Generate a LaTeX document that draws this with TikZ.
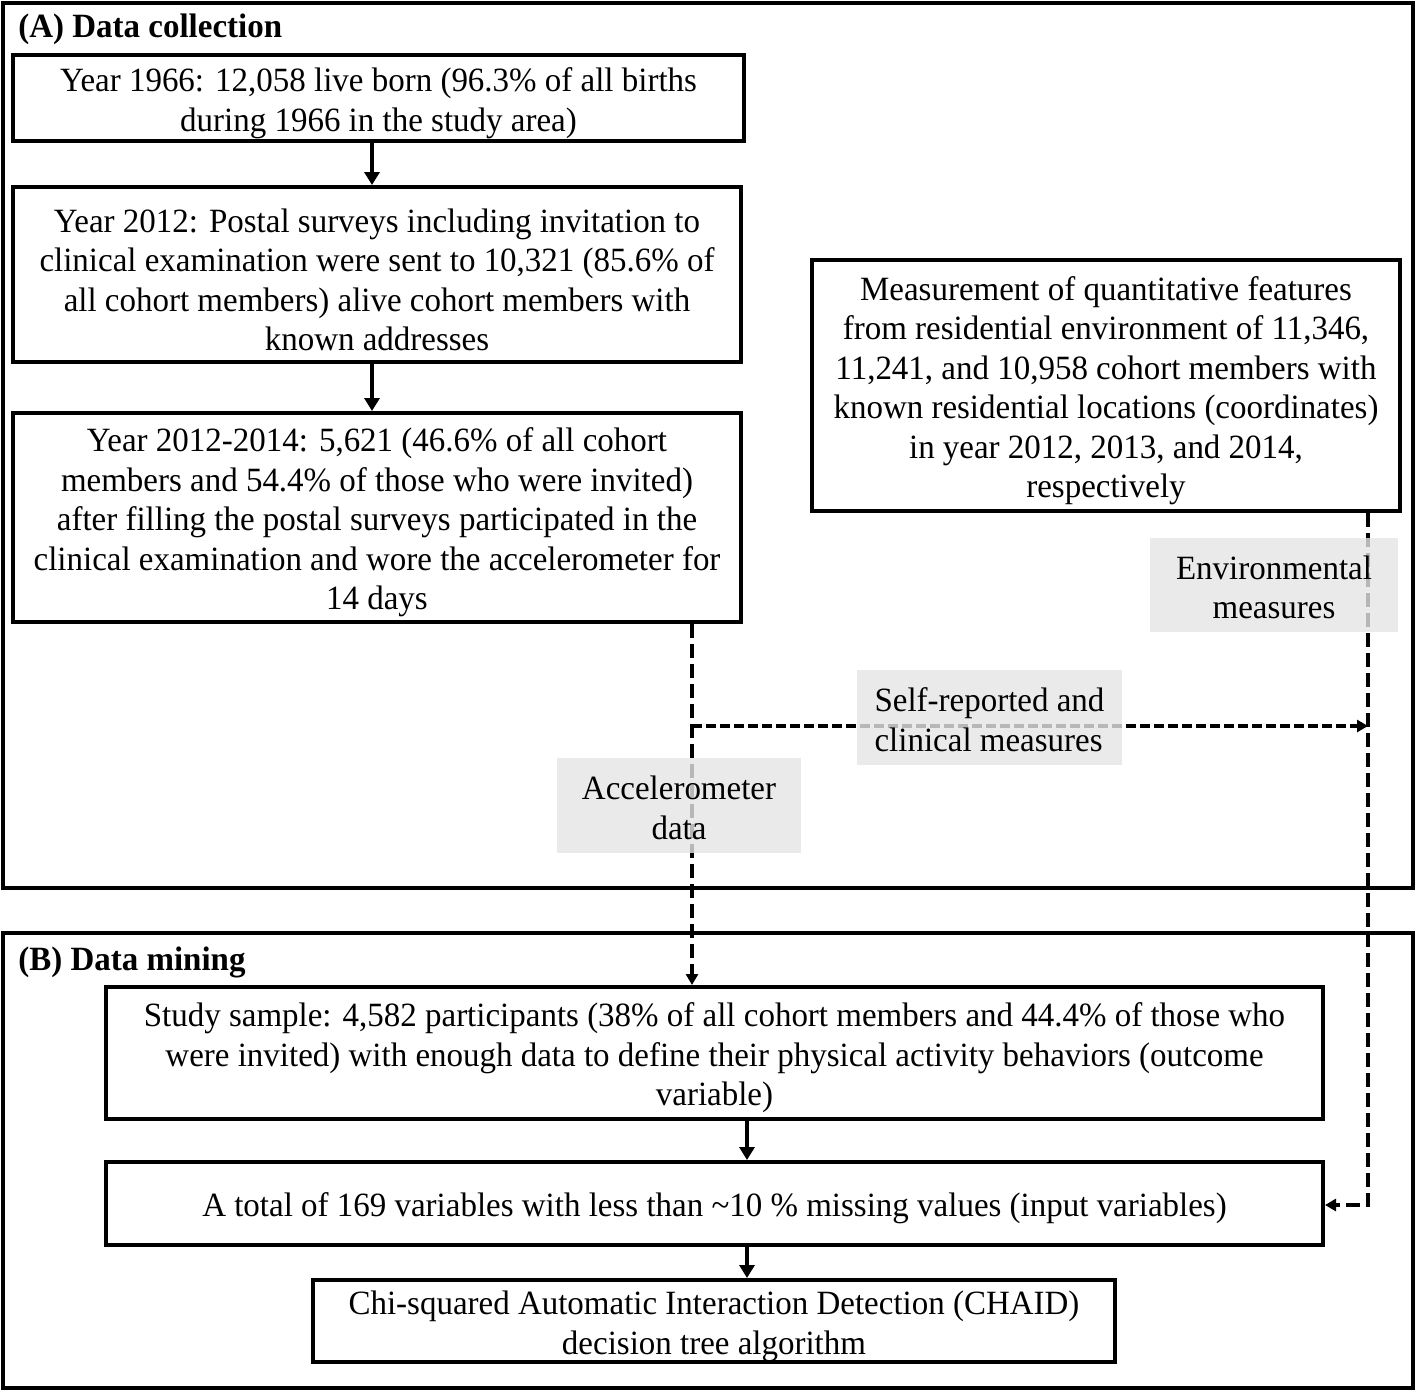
\documentclass[tikz,border=0pt]{standalone}
\usepackage{fontspec}
\setmainfont[FakeStretch=0.97]{Liberation Serif}
\usetikzlibrary{arrows.meta}
\newcommand{\up}{\rule{0pt}{17pt}}
\newcommand{\upt}{\rule{0pt}{14pt}}

\begin{document}
\begin{tikzpicture}[x=0.5pt,y=-0.5pt,
    txt/.style={font=\fontsize{17}{19.75}\selectfont},
    boxsize/.style 2 args={minimum width=#1*0.5pt, minimum height=#2*0.5pt},
    box/.style={draw, line width=2pt, inner sep=0pt, align=center, txt},
    tag/.style={fill=black!10, fill opacity=0.8, text opacity=1, inner sep=0pt, txt},
    arr/.style={line width=2.2pt, -{Triangle[length=6.5pt,width=7.5pt]}},
    dasharr/.style={line width=2pt, dash pattern=on 7pt off 3pt, -{Triangle[length=5.5pt,width=6pt]}},
    dashh/.style={dasharr, dash pattern=on 5pt off 2pt},
    frame/.style={line width=1.6pt},
    title/.style={anchor=west, inner sep=0pt, font=\fontsize{17}{19.75}\selectfont\bfseries}]
    \useasboundingbox (0,0) rectangle (1418,1392);

    % the two panels
    \draw[frame] (3,3) rectangle (1413,888);
    \draw[frame] (3,933) rectangle (1413,1388);
    \node[title] (titleA) at (18,29) {(A) Data collection};
    \node[title] (titleB) at (18,962) {(B) Data mining};

    % panel A
    \node[box, boxsize={731}{86}] (y1966) at (378.5,98) {\up Year 1966: 12,058 live born (96.3\% of all births\\during 1966 in the study area)};
    \node[box, boxsize={728}{175}] (y2012) at (377,274.5) {\up Year 2012: Postal surveys including invitation to\\clinical examination were sent to 10,321 (85.6\% of\\all cohort members) alive cohort members with\\known addresses};
    \node[box, boxsize={728}{209}] (y2014) at (377,517.5) {\up Year 2012-2014: 5,621 (46.6\% of all cohort\\members and 54.4\% of those who were invited)\\after filling the postal surveys participated in the\\clinical examination and wore the accelerometer for\\14 days};
    \node[box, boxsize={588}{251}] (meas) at (1106,385.5) {\up Measurement of quantitative features\\from residential environment of 11,346,\\11,241, and 10,958 cohort members with\\known residential locations (coordinates)\\in year 2012, 2013, and 2014,\\respectively};

    % panel B
    \node[box, boxsize={1217}{132}] (sample) at (714.5,1053) {\up Study sample: 4,582 participants (38\% of all cohort members and 44.4\% of those who\\were invited) with enough data to define their physical activity behaviors (outcome\\variable)};
    \node[box, boxsize={1217}{83}] (total) at (714.5,1203.5) {\up A total of 169 variables with less than \textasciitilde10 \% missing values (input variables)};
    \node[box, boxsize={802}{82}] (chaid) at (714,1321) {\up Chi-squared Automatic Interaction Detection (CHAID)\\decision tree algorithm};

    % solid arrows
    \foreach \a/\b/\x in {y1966/y2012/372, y2012/y2014/372, sample/total/747, total/chaid/747} {
        \draw[arr] (\a.south -| \x,0) -- (\b.north -| \x,0);
    }

    % dashed connectors
    \coordinate (split) at (692,726);
    \coordinate (turn) at (1368,1205);
    \draw[dasharr] (y2014.south -| split) -- (sample.north -| split);
    \draw[dashh] (split) -- (split -| turn);
    \draw[dasharr] (meas.south -| turn) -- (turn) -- (total.east |- turn);

    % labels on the connectors
    \node[tag, boxsize={248}{94}, align=center] (env) at (1274,585) {\upt Environmental\\measures};
    \node[tag, boxsize={265}{95}, align=left] (self) at (989.5,717.5) {\upt Self-reported and\\clinical measures};
    \node[tag, boxsize={244}{95}, align=center] (acc) at (679,805.5) {\upt Accelerometer\\data};
\end{tikzpicture}
\end{document}
